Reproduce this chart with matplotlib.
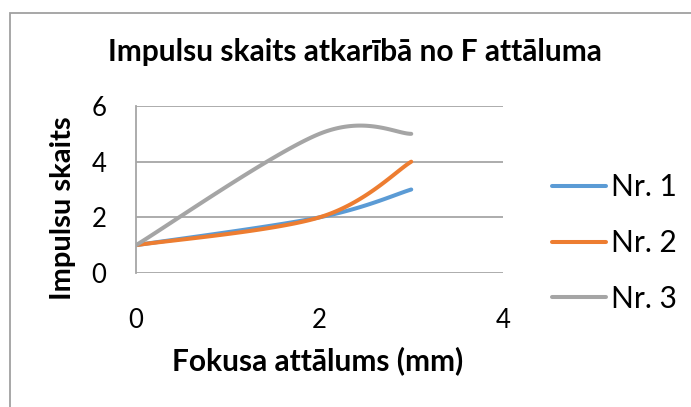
import numpy as np
import matplotlib.pyplot as plt
from matplotlib.patches import Rectangle

plt.rcParams['font.family'] = ['Lato', 'DejaVu Sans']

x_mm = [0, 2, 3]
series = {"Nr. 1": [1, 2, 3],
          "Nr. 2": [1, 2, 4],
          "Nr. 3": [1, 5, 5]}
colors = {"Nr. 1": "#5B9BD5", "Nr. 2": "#ED7D31", "Nr. 3": "#A5A5A5"}
x_ticks = [0, 2, 4]
y_ticks = [0, 2, 4, 6]


def smooth(xs, ys, n=60):
    # Excel-style smoothed line: cubic Bezier through the points
    p = np.column_stack([xs, ys]).astype(float)
    ext = np.vstack([p[0], p, p[-1]])
    out = []
    for i in range(len(p) - 1):
        p0, p3 = p[i], p[i + 1]
        c1 = p0 + (ext[i + 2] - ext[i]) / 6
        c2 = p3 - (ext[i + 3] - ext[i + 1]) / 6
        t = np.linspace(0, 1, n)[:, None]
        b = ((1 - t) ** 3) * p0 + 3 * ((1 - t) ** 2) * t * c1 \
            + 3 * (1 - t) * t ** 2 * c2 + t ** 3 * p3
        out.append(b)
    b = np.vstack(out)
    return b[:, 0], b[:, 1]


fig = plt.figure(figsize=(6.91, 4.07), dpi=100)
ax = fig.add_axes([136 / 691, 1 - 273 / 407, 367 / 691, 167 / 407])

for name, vals in series.items():
    sx, sy = smooth(x_mm, vals)
    ax.plot(sx, sy, color=colors[name], lw=2.9, solid_capstyle='round', label=name)

ax.set_xlim(0, 4)
ax.set_ylim(0, 6)
ax.set_xticks(x_ticks)
ax.set_yticks(y_ticks)
ax.tick_params(length=0, labelsize=18.5, colors='black')
ax.tick_params(axis='x', pad=25)
ax.tick_params(axis='y', pad=21.5)
ax.grid(axis='y', color='#A6A6A6', lw=1.3)
ax.set_axisbelow(True)
for s in ['top', 'right', 'bottom']:
    ax.spines[s].set_visible(False)
ax.spines['left'].set_color('#A6A6A6')
ax.spines['left'].set_linewidth(1.3)

fig.text(355 / 691, 1 - 52 / 407, 'Impulsu skaits atkarībā no F attāluma',
         ha='center', va='center', fontsize=21.5, fontweight='bold')
fig.text(318 / 691, 1 - 361 / 407, 'Fokusa attālums (mm)',
         ha='center', va='center', fontsize=21.5, fontweight='bold')
fig.text(63 / 691, 1 - 208 / 407, 'Impulsu skaits', rotation=90,
         ha='center', va='center', fontsize=21, fontweight='bold')

leg = ax.legend(loc='center left', bbox_to_anchor=(552 / 691, 1 - 243 / 407),
                bbox_transform=fig.transFigure, frameon=False, fontsize=21.5,
                borderpad=0, borderaxespad=0,
                handlelength=1.8, handletextpad=0.17, labelspacing=0.93)

fig.patches.append(Rectangle((10 / 691, -0.1), 1.2, 1 - 13 / 407 + 0.1,
                             transform=fig.transFigure, fill=False,
                             edgecolor='#A0A0A0', lw=1.3))

fig.savefig('out.png', dpi=100)
